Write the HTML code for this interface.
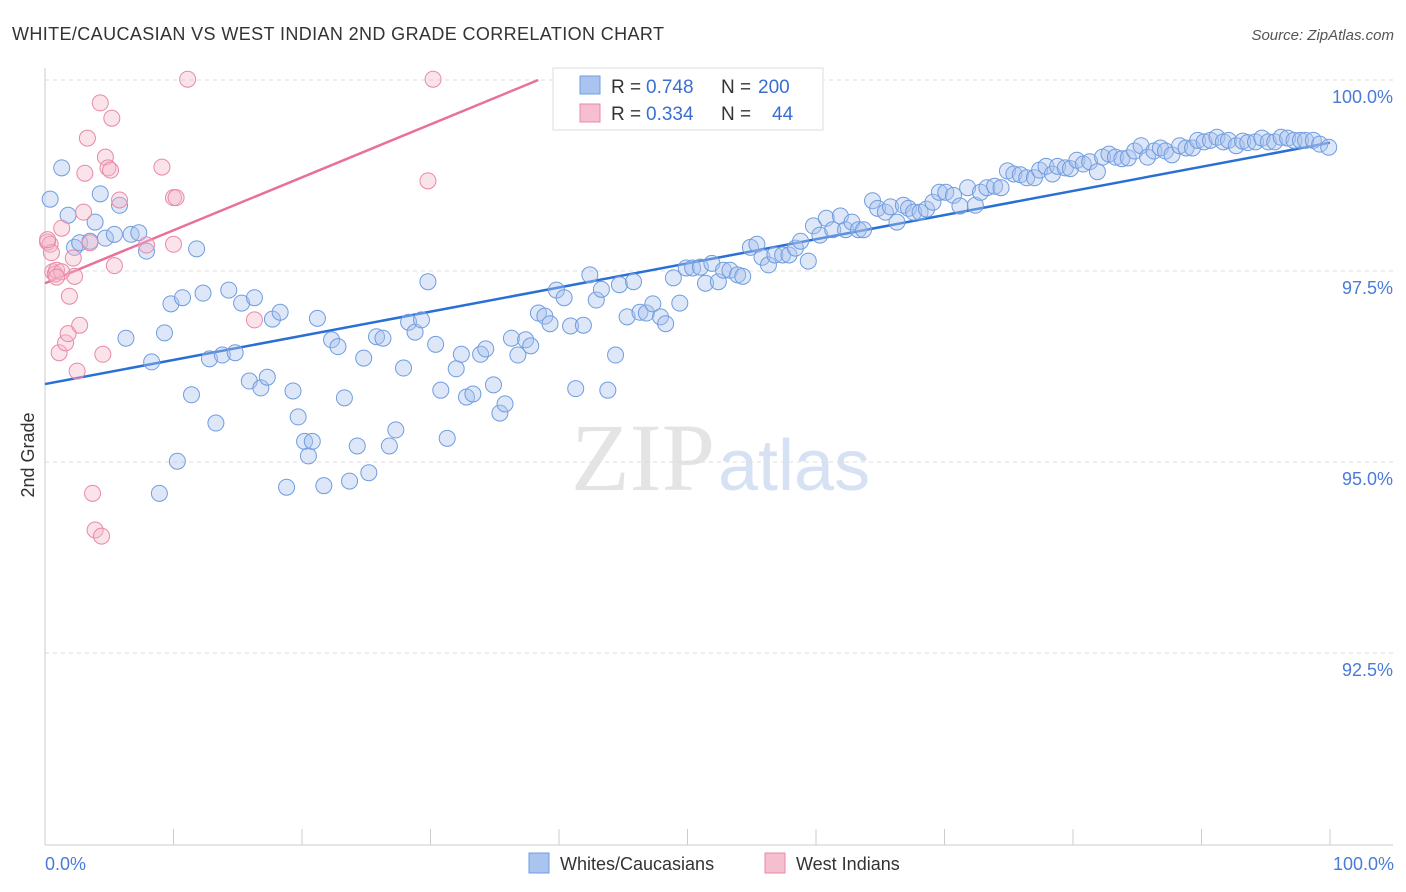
<!DOCTYPE html>
<html><head><meta charset="utf-8"><style>
body{margin:0;background:#fff;font-family:"Liberation Sans",sans-serif;}
svg{display:block}
</style></head><body>
<svg id="chart" width="1406" height="892">
<text x="12" y="40" font-size="18" fill="#333" textLength="652">WHITE/CAUCASIAN VS WEST INDIAN 2ND GRADE CORRELATION CHART</text>
<text x="1394" y="40" font-size="15" fill="#555" font-style="italic" text-anchor="end">Source: ZipAtlas.com</text>
<text x="715" y="490" font-size="96" fill="#e4e4e4" text-anchor="end" font-family="Liberation Serif, serif">ZIP</text>
<text x="718" y="490" font-size="72" fill="#d6e2f3">atlas</text>
<g id="grid"></g><g id="axes"></g><g id="lines"></g><g id="pts"></g>
<text transform="translate(34,455) rotate(-90)" font-size="18" fill="#333" text-anchor="middle">2nd Grade</text>
<text x="45" y="870" font-size="18" fill="#4a7bd8">0.0%</text>
<text x="1394" y="870" font-size="18" fill="#4a7bd8" text-anchor="end">100.0%</text>
<g>
<rect x="553" y="68" width="270" height="62" fill="#fff" stroke="#ddd"/>
<rect x="580" y="76" width="20" height="18" fill="#a9c4ee" stroke="#6f9de0"/>
<rect x="580" y="104" width="20" height="18" fill="#f5bfd0" stroke="#e889a8"/>
<text x="611" y="93" font-size="19" fill="#333">R =</text>
<text x="646" y="93" font-size="19" fill="#3a6fd0">0.748</text>
<text x="721" y="93" font-size="19" fill="#333">N =</text>
<text x="758" y="93" font-size="19" fill="#3a6fd0">200</text>
<text x="611" y="120" font-size="19" fill="#333">R =</text>
<text x="646" y="120" font-size="19" fill="#3a6fd0">0.334</text>
<text x="721" y="120" font-size="19" fill="#333">N =</text>
<text x="772" y="120" font-size="19" fill="#3a6fd0">44</text>
</g>
<g>
<rect x="529" y="853" width="20" height="20" fill="#a9c4ee" stroke="#6f9de0"/>
<text x="560" y="870" font-size="18" fill="#333">Whites/Caucasians</text>
<rect x="765" y="853" width="20" height="20" fill="#f5bfd0" stroke="#e889a8"/>
<text x="796" y="870" font-size="18" fill="#333">West Indians</text>
</g>
</svg>
<script>
const yTicks=[100,97.5,95,92.5];
const yTickLabels=["100.0%","97.5%","95.0%","92.5%"];
const xTicks=[0,10,20,30,40,50,60,70,80,90,100];
const blueX=[0.4,1.3,1.8,2.3,2.7,3.5,3.9,4.3,4.7,5.4,5.8,6.3,6.7,7.3,7.9,8.3,8.9,9.3,9.8,10.3,10.7,11.4,11.8,12.3,12.8,13.3,13.8,14.3,14.8,15.3,15.9,16.3,16.8,17.3,17.7,18.3,18.8,19.3,19.7,20.2,20.5,20.8,21.2,21.7,22.3,22.8,23.3,23.7,24.3,24.8,25.2,25.8,26.3,26.8,27.3,27.9,28.3,28.8,29.3,29.8,30.4,30.8,31.3,32.0,32.4,32.8,33.3,33.9,34.3,34.9,35.4,35.8,36.3,36.8,37.4,37.8,38.4,38.9,39.3,39.8,40.4,40.9,41.3,41.9,42.4,42.9,43.3,43.8,44.4,44.7,45.3,45.8,46.3,46.8,47.3,47.9,48.3,48.9,49.4,49.9,50.4,51.0,51.4,51.9,52.4,52.8,53.3,53.9,54.3,54.9,55.4,55.8,56.3,56.8,57.4,57.9,58.4,58.8,59.4,59.8,60.3,60.8,61.3,61.9,62.3,62.8,63.3,63.7,64.4,64.8,65.4,65.8,66.3,66.8,67.2,67.6,68.1,68.6,69.1,69.6,70.1,70.7,71.2,71.8,72.4,72.8,73.3,73.9,74.4,74.9,75.4,75.9,76.4,77.0,77.4,77.9,78.4,78.8,79.4,79.8,80.3,80.8,81.3,81.9,82.3,82.8,83.3,83.8,84.3,84.8,85.3,85.8,86.3,86.8,87.2,87.7,88.3,88.8,89.3,89.7,90.2,90.7,91.2,91.7,92.1,92.7,93.2,93.6,94.2,94.7,95.2,95.7,96.2,96.7,97.2,97.7,98.1,98.7,99.2,99.9];
const blueY=[98.44,98.85,98.23,97.81,97.87,97.89,98.14,98.51,97.93,97.98,98.36,96.62,97.98,98.00,97.76,96.31,94.59,96.69,97.07,95.01,97.15,95.88,97.79,97.21,96.35,95.51,96.40,97.25,96.43,97.08,96.06,97.15,95.97,96.11,96.87,96.96,94.67,95.93,95.59,95.27,95.08,95.27,96.88,94.69,96.60,96.51,95.84,94.75,95.21,96.36,94.86,96.64,96.62,95.21,95.42,96.23,96.83,96.70,96.86,97.36,96.54,95.94,95.31,96.22,96.41,95.85,95.89,96.41,96.48,96.01,95.64,95.76,96.62,96.40,96.60,96.52,96.95,96.91,96.81,97.25,97.15,96.78,95.96,96.79,97.45,97.12,97.26,95.94,96.40,97.32,96.90,97.36,96.96,96.95,97.07,96.90,96.81,97.41,97.08,97.54,97.54,97.55,97.34,97.60,97.36,97.51,97.51,97.45,97.43,97.81,97.85,97.68,97.58,97.71,97.71,97.71,97.80,97.89,97.63,98.09,97.97,98.19,98.04,98.22,98.04,98.14,98.04,98.04,98.42,98.32,98.27,98.34,98.14,98.36,98.32,98.27,98.27,98.31,98.40,98.53,98.53,98.49,98.35,98.59,98.36,98.53,98.59,98.61,98.59,98.81,98.77,98.76,98.72,98.72,98.82,98.87,98.77,98.87,98.85,98.84,98.95,98.90,98.93,98.80,98.99,99.03,98.99,98.97,98.98,99.07,99.14,98.99,99.07,99.11,99.07,99.02,99.14,99.11,99.11,99.21,99.19,99.21,99.25,99.19,99.21,99.14,99.20,99.18,99.19,99.24,99.19,99.19,99.25,99.24,99.21,99.21,99.21,99.21,99.16,99.12];
const pinkX=[0.2,0.4,0.5,0.6,0.8,0.9,1.1,1.3,1.6,1.8,1.9,2.2,2.3,2.5,2.7,3.0,3.1,3.3,3.5,3.7,3.9,4.3,4.4,4.5,4.7,4.9,5.1,5.2,5.4,5.8,7.9,9.1,10.0,10.2,10.0,11.1,16.3,29.8,30.2,1.3,0.9,0.2];
const pinkY=[97.88,97.85,97.74,97.49,97.46,97.51,96.43,98.06,96.56,96.68,97.17,97.67,97.43,96.19,96.79,98.27,98.78,99.24,97.87,94.59,94.11,99.70,94.03,96.41,98.99,98.85,98.82,99.50,97.57,98.43,97.84,98.86,98.46,98.46,97.85,100.01,96.86,98.68,100.01,97.49,97.42,97.91];
const blueTrend=[96.02,99.18];
const pinkTrend=[97.34,0.0693];
const NS="http://www.w3.org/2000/svg";
const X0=45,X1=1330,YT=80,PX=76.4;
function sx(v){return X0+(X1-X0)*v/100;}
function sy(v){return YT+(100-v)*PX;}
function mk(tag,attrs,parent){const e=document.createElementNS(NS,tag);for(const k in attrs)e.setAttribute(k,attrs[k]);document.getElementById(parent).appendChild(e);return e;}
yTicks.forEach((t,i)=>{
 const l=mk('line',{x1:45,x2:1393,y1:sy(t),y2:sy(t),stroke:'#ddd','stroke-dasharray':'4,4'},'grid');
 
 
 const tx=mk('text',{x:1393,y:sy(t)+23,'font-size':18,fill:'#4a7bd8','text-anchor':'end'},'grid');
 tx.textContent=yTickLabels[i];
 
 
});
let a=mk('line',{x1:45,x2:45,y1:68,y2:845,stroke:'#ccc'},'axes');


a=mk('line',{x1:45,x2:1393,y1:845,y2:845,stroke:'#ccc'},'axes');


xTicks.forEach(t=>{
 const l=mk('line',{x1:sx(t),x2:sx(t),y1:829,y2:845,stroke:'#ccc'},'axes');
 
 
});
function dots(xs,ys,fill,stroke,name){
 xs.forEach((x,i)=>{
  const c=mk('circle',{cx:sx(x),cy:sy(ys[i]),r:8,fill:fill,'fill-opacity':0.4,stroke:stroke,'stroke-width':1},'pts');
  
  
 });
}
dots(blueX,blueY,'#a9c4ee','#6f9de0','white-point');
dots(pinkX,pinkY,'#f5b8ca','#e889a8','west-indian-point');
let tl=mk('line',{x1:sx(0),y1:sy(blueTrend[0]),x2:sx(100),y2:sy(blueTrend[1]),stroke:'#2a6fd6','stroke-width':2.5},'lines');


const pxEnd=(100-pinkTrend[0])/pinkTrend[1];
tl=mk('line',{x1:sx(0),y1:sy(pinkTrend[0]),x2:sx(pxEnd),y2:sy(100),stroke:'#e8709a','stroke-width':2.5},'lines');


</script>
</body></html>
